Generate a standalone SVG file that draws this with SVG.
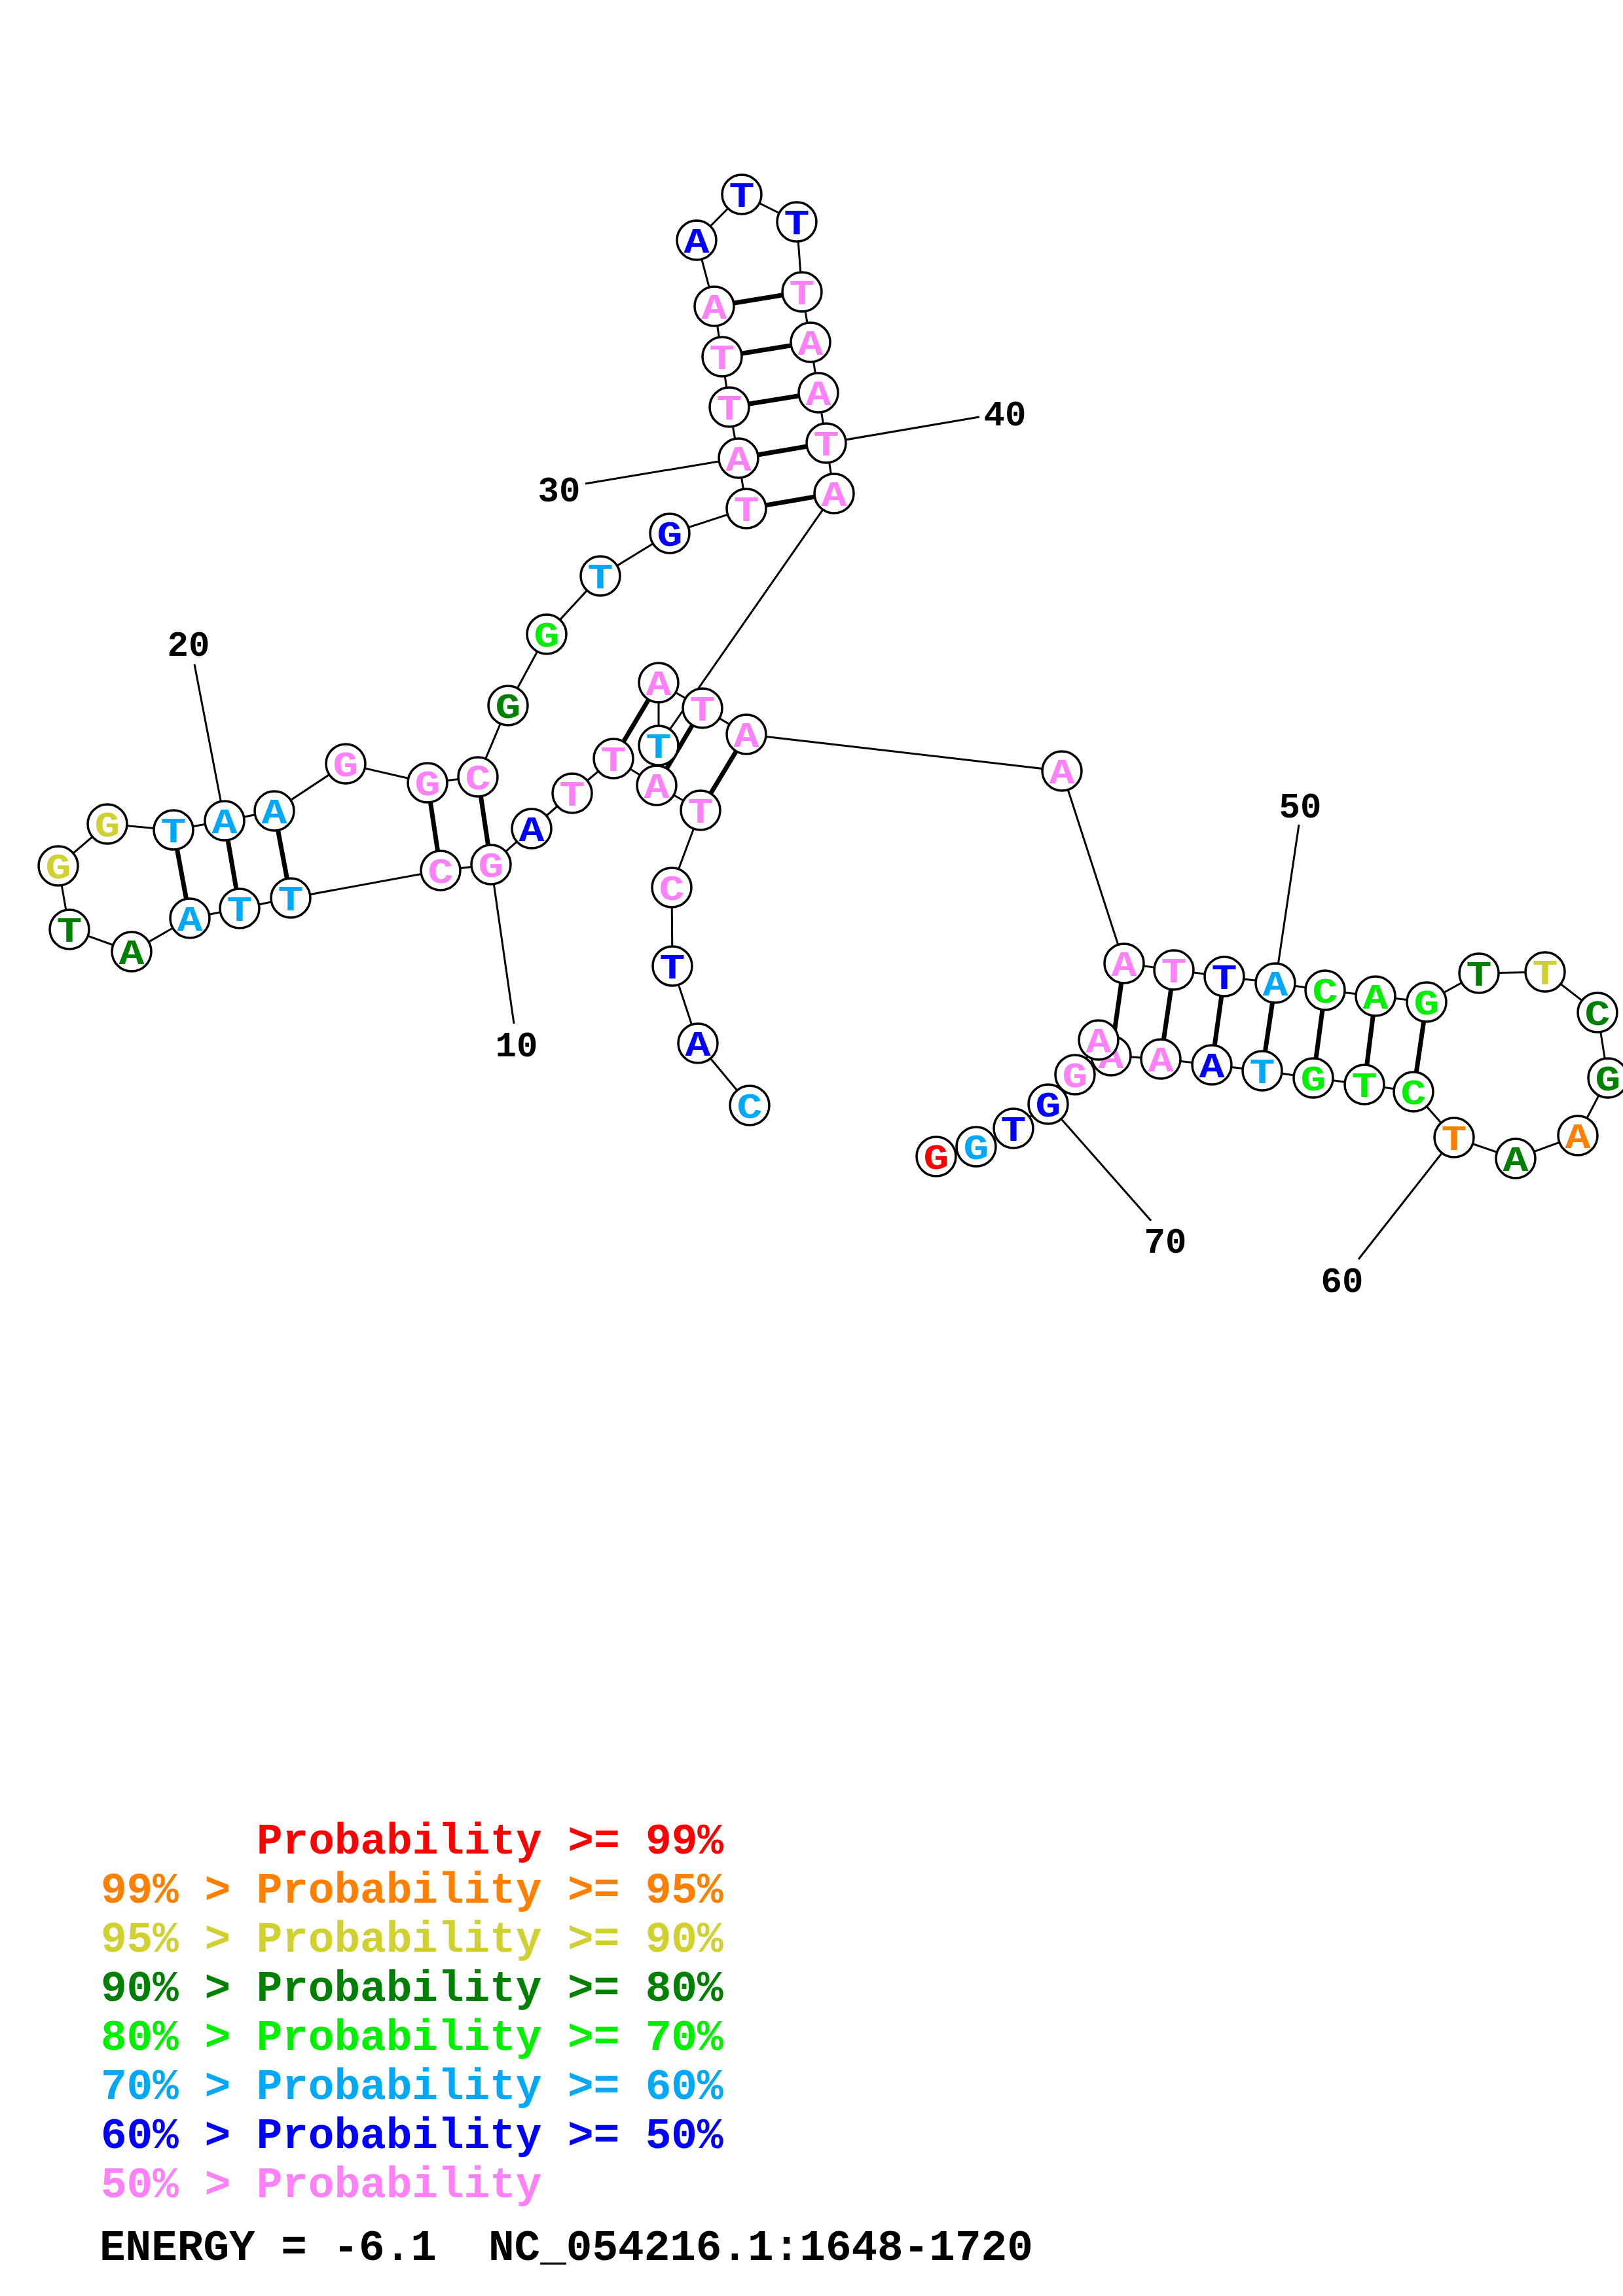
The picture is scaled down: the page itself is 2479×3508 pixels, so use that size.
<svg xmlns="http://www.w3.org/2000/svg" width="2479" height="3508" viewBox="0 0 2479 3508">
<style>
.bb{stroke:#000;stroke-width:3;fill:none}
.bp{stroke:#000;stroke-width:7;fill:none}
.lbl{stroke:#000;stroke-width:3;fill:none}
.nt circle{fill:#fff;stroke:#000;stroke-width:3.5}
.nt text{font-family:"Liberation Mono","DejaVu Sans Mono",monospace;font-weight:bold;font-size:54px;text-anchor:middle}
.num{font-family:"Liberation Mono","DejaVu Sans Mono",monospace;font-weight:bold;font-size:54px;text-anchor:middle;fill:#000}
.leg{font-family:"Liberation Mono","DejaVu Sans Mono",monospace;font-weight:bold;font-size:66px}
.r{fill:#FF0000}.o{fill:#FF8000}.y{fill:#D0D030}.dg{fill:#008000}.bg{fill:#00F000}.lb{fill:#00A8F8}.b{fill:#0000FF}.pk{fill:#FF80F8}
</style>
<rect width="2479" height="3508" fill="#fff"/>
<g id="connectors">
<polyline class="bb" points="1145,1689 1066,1594 1027,1476 1026,1356 1070,1238 1003,1200 937,1159 874,1212 812,1266 750,1321 673,1330 444,1372 366,1388 290,1403 201,1454 106,1420 89,1323 164,1259 265,1268 343,1254 419,1239 528,1167 653,1196 730,1187 776,1078 835,969 917,880 1023,815 1140,777 1128,700 1114,622 1103,545 1091,468 1064,367 1133,297 1217,339 1225,446 1238,523 1250,600 1262,677 1274,754 1006,1139 1006,1043 1073,1082 1140,1122 1622,1178 1717,1472 1793,1482 1870,1492 1948,1502 2024,1513 2101,1522 2179,1531 2259,1487 2360,1485 2440,1547 2456,1647 2410,1735 2315,1770 2221,1738 2159,1668 2084,1657 2006,1647 1928,1636 1851,1627 1773,1618 1697,1613 1678,1589 1642,1642 1601,1687 1548,1724 1491,1752 1430,1767"/>
<line class="bp" x1="1070" y1="1238" x2="1140" y2="1122"/>
<line class="bp" x1="1003" y1="1200" x2="1073" y2="1082"/>
<line class="bp" x1="937" y1="1159" x2="1006" y2="1043"/>
<line class="bp" x1="750" y1="1321" x2="730" y2="1187"/>
<line class="bp" x1="673" y1="1330" x2="653" y2="1196"/>
<line class="bp" x1="444" y1="1372" x2="419" y2="1239"/>
<line class="bp" x1="366" y1="1388" x2="343" y2="1254"/>
<line class="bp" x1="290" y1="1403" x2="265" y2="1268"/>
<line class="bp" x1="1140" y1="777" x2="1274" y2="754"/>
<line class="bp" x1="1128" y1="700" x2="1262" y2="677"/>
<line class="bp" x1="1114" y1="622" x2="1250" y2="600"/>
<line class="bp" x1="1103" y1="545" x2="1238" y2="523"/>
<line class="bp" x1="1091" y1="468" x2="1225" y2="446"/>
<line class="bp" x1="1717" y1="1472" x2="1697" y2="1613"/>
<line class="bp" x1="1793" y1="1482" x2="1773" y2="1618"/>
<line class="bp" x1="1870" y1="1492" x2="1851" y2="1627"/>
<line class="bp" x1="1948" y1="1502" x2="1928" y2="1636"/>
<line class="bp" x1="2024" y1="1513" x2="2006" y2="1647"/>
<line class="bp" x1="2101" y1="1522" x2="2084" y2="1657"/>
<line class="bp" x1="2179" y1="1531" x2="2159" y2="1668"/>
<line class="lbl" x1="750" y1="1321" x2="785" y2="1564"/>
<line class="lbl" x1="343" y1="1254" x2="297" y2="1015"/>
<line class="lbl" x1="1128" y1="700" x2="894" y2="739"/>
<line class="lbl" x1="1262" y1="677" x2="1496" y2="637"/>
<line class="lbl" x1="1948" y1="1502" x2="1984" y2="1260"/>
<line class="lbl" x1="2221" y1="1738" x2="2075" y2="1924"/>
<line class="lbl" x1="1601" y1="1687" x2="1758" y2="1865"/>
</g>
<g id="numbers">
<text class="num" x="789" y="1614">10</text>
<text class="num" x="288" y="1002">20</text>
<text class="num" x="854" y="766">30</text>
<text class="num" x="1535" y="650">40</text>
<text class="num" x="1986" y="1249">50</text>
<text class="num" x="2050" y="1974">60</text>
<text class="num" x="1780" y="1914">70</text>
</g>
<g id="nodes">
<g id="n1" class="nt" transform="translate(1145 1689)"><circle r="30"/><text class="lb" y="19" transform="scale(1.2 1)">C</text></g>
<g id="n2" class="nt" transform="translate(1066 1594)"><circle r="30"/><text class="b" y="19" transform="scale(1.2 1)">A</text></g>
<g id="n3" class="nt" transform="translate(1027 1476)"><circle r="30"/><text class="b" y="19" transform="scale(1.2 1)">T</text></g>
<g id="n4" class="nt" transform="translate(1026 1356)"><circle r="30"/><text class="pk" y="19" transform="scale(1.2 1)">C</text></g>
<g id="n5" class="nt" transform="translate(1070 1238)"><circle r="30"/><text class="pk" y="19" transform="scale(1.2 1)">T</text></g>
<g id="n6" class="nt" transform="translate(1003 1200)"><circle r="30"/><text class="pk" y="19" transform="scale(1.2 1)">A</text></g>
<g id="n7" class="nt" transform="translate(937 1159)"><circle r="30"/><text class="pk" y="19" transform="scale(1.2 1)">T</text></g>
<g id="n8" class="nt" transform="translate(874 1212)"><circle r="30"/><text class="pk" y="19" transform="scale(1.2 1)">T</text></g>
<g id="n9" class="nt" transform="translate(812 1266)"><circle r="30"/><text class="b" y="19" transform="scale(1.2 1)">A</text></g>
<g id="n10" class="nt" transform="translate(750 1321)"><circle r="30"/><text class="pk" y="19" transform="scale(1.2 1)">G</text></g>
<g id="n11" class="nt" transform="translate(673 1330)"><circle r="30"/><text class="pk" y="19" transform="scale(1.2 1)">C</text></g>
<g id="n12" class="nt" transform="translate(444 1372)"><circle r="30"/><text class="lb" y="19" transform="scale(1.2 1)">T</text></g>
<g id="n13" class="nt" transform="translate(366 1388)"><circle r="30"/><text class="lb" y="19" transform="scale(1.2 1)">T</text></g>
<g id="n14" class="nt" transform="translate(290 1403)"><circle r="30"/><text class="lb" y="19" transform="scale(1.2 1)">A</text></g>
<g id="n15" class="nt" transform="translate(201 1454)"><circle r="30"/><text class="dg" y="19" transform="scale(1.2 1)">A</text></g>
<g id="n16" class="nt" transform="translate(106 1420)"><circle r="30"/><text class="dg" y="19" transform="scale(1.2 1)">T</text></g>
<g id="n17" class="nt" transform="translate(89 1323)"><circle r="30"/><text class="y" y="19" transform="scale(1.2 1)">G</text></g>
<g id="n18" class="nt" transform="translate(164 1259)"><circle r="30"/><text class="y" y="19" transform="scale(1.2 1)">G</text></g>
<g id="n19" class="nt" transform="translate(265 1268)"><circle r="30"/><text class="lb" y="19" transform="scale(1.2 1)">T</text></g>
<g id="n20" class="nt" transform="translate(343 1254)"><circle r="30"/><text class="lb" y="19" transform="scale(1.2 1)">A</text></g>
<g id="n21" class="nt" transform="translate(419 1239)"><circle r="30"/><text class="lb" y="19" transform="scale(1.2 1)">A</text></g>
<g id="n22" class="nt" transform="translate(528 1167)"><circle r="30"/><text class="pk" y="19" transform="scale(1.2 1)">G</text></g>
<g id="n23" class="nt" transform="translate(653 1196)"><circle r="30"/><text class="pk" y="19" transform="scale(1.2 1)">G</text></g>
<g id="n24" class="nt" transform="translate(730 1187)"><circle r="30"/><text class="pk" y="19" transform="scale(1.2 1)">C</text></g>
<g id="n25" class="nt" transform="translate(776 1078)"><circle r="30"/><text class="dg" y="19" transform="scale(1.2 1)">G</text></g>
<g id="n26" class="nt" transform="translate(835 969)"><circle r="30"/><text class="bg" y="19" transform="scale(1.2 1)">G</text></g>
<g id="n27" class="nt" transform="translate(917 880)"><circle r="30"/><text class="lb" y="19" transform="scale(1.2 1)">T</text></g>
<g id="n28" class="nt" transform="translate(1023 815)"><circle r="30"/><text class="b" y="19" transform="scale(1.2 1)">G</text></g>
<g id="n29" class="nt" transform="translate(1140 777)"><circle r="30"/><text class="pk" y="19" transform="scale(1.2 1)">T</text></g>
<g id="n30" class="nt" transform="translate(1128 700)"><circle r="30"/><text class="pk" y="19" transform="scale(1.2 1)">A</text></g>
<g id="n31" class="nt" transform="translate(1114 622)"><circle r="30"/><text class="pk" y="19" transform="scale(1.2 1)">T</text></g>
<g id="n32" class="nt" transform="translate(1103 545)"><circle r="30"/><text class="pk" y="19" transform="scale(1.2 1)">T</text></g>
<g id="n33" class="nt" transform="translate(1091 468)"><circle r="30"/><text class="pk" y="19" transform="scale(1.2 1)">A</text></g>
<g id="n34" class="nt" transform="translate(1064 367)"><circle r="30"/><text class="b" y="19" transform="scale(1.2 1)">A</text></g>
<g id="n35" class="nt" transform="translate(1133 297)"><circle r="30"/><text class="b" y="19" transform="scale(1.2 1)">T</text></g>
<g id="n36" class="nt" transform="translate(1217 339)"><circle r="30"/><text class="b" y="19" transform="scale(1.2 1)">T</text></g>
<g id="n37" class="nt" transform="translate(1225 446)"><circle r="30"/><text class="pk" y="19" transform="scale(1.2 1)">T</text></g>
<g id="n38" class="nt" transform="translate(1238 523)"><circle r="30"/><text class="pk" y="19" transform="scale(1.2 1)">A</text></g>
<g id="n39" class="nt" transform="translate(1250 600)"><circle r="30"/><text class="pk" y="19" transform="scale(1.2 1)">A</text></g>
<g id="n40" class="nt" transform="translate(1262 677)"><circle r="30"/><text class="pk" y="19" transform="scale(1.2 1)">T</text></g>
<g id="n41" class="nt" transform="translate(1274 754)"><circle r="30"/><text class="pk" y="19" transform="scale(1.2 1)">A</text></g>
<g id="n42" class="nt" transform="translate(1006 1139)"><circle r="30"/><text class="lb" y="19" transform="scale(1.2 1)">T</text></g>
<g id="n43" class="nt" transform="translate(1006 1043)"><circle r="30"/><text class="pk" y="19" transform="scale(1.2 1)">A</text></g>
<g id="n44" class="nt" transform="translate(1073 1082)"><circle r="30"/><text class="pk" y="19" transform="scale(1.2 1)">T</text></g>
<g id="n45" class="nt" transform="translate(1140 1122)"><circle r="30"/><text class="pk" y="19" transform="scale(1.2 1)">A</text></g>
<g id="n46" class="nt" transform="translate(1622 1178)"><circle r="30"/><text class="pk" y="19" transform="scale(1.2 1)">A</text></g>
<g id="n47" class="nt" transform="translate(1717 1472)"><circle r="30"/><text class="pk" y="19" transform="scale(1.2 1)">A</text></g>
<g id="n48" class="nt" transform="translate(1793 1482)"><circle r="30"/><text class="pk" y="19" transform="scale(1.2 1)">T</text></g>
<g id="n49" class="nt" transform="translate(1870 1492)"><circle r="30"/><text class="b" y="19" transform="scale(1.2 1)">T</text></g>
<g id="n50" class="nt" transform="translate(1948 1502)"><circle r="30"/><text class="lb" y="19" transform="scale(1.2 1)">A</text></g>
<g id="n51" class="nt" transform="translate(2024 1513)"><circle r="30"/><text class="bg" y="19" transform="scale(1.2 1)">C</text></g>
<g id="n52" class="nt" transform="translate(2101 1522)"><circle r="30"/><text class="bg" y="19" transform="scale(1.2 1)">A</text></g>
<g id="n53" class="nt" transform="translate(2179 1531)"><circle r="30"/><text class="bg" y="19" transform="scale(1.2 1)">G</text></g>
<g id="n54" class="nt" transform="translate(2259 1487)"><circle r="30"/><text class="dg" y="19" transform="scale(1.2 1)">T</text></g>
<g id="n55" class="nt" transform="translate(2360 1485)"><circle r="30"/><text class="y" y="19" transform="scale(1.2 1)">T</text></g>
<g id="n56" class="nt" transform="translate(2440 1547)"><circle r="30"/><text class="dg" y="19" transform="scale(1.2 1)">C</text></g>
<g id="n57" class="nt" transform="translate(2456 1647)"><circle r="30"/><text class="dg" y="19" transform="scale(1.2 1)">G</text></g>
<g id="n58" class="nt" transform="translate(2410 1735)"><circle r="30"/><text class="o" y="19" transform="scale(1.2 1)">A</text></g>
<g id="n59" class="nt" transform="translate(2315 1770)"><circle r="30"/><text class="dg" y="19" transform="scale(1.2 1)">A</text></g>
<g id="n60" class="nt" transform="translate(2221 1738)"><circle r="30"/><text class="o" y="19" transform="scale(1.2 1)">T</text></g>
<g id="n61" class="nt" transform="translate(2159 1668)"><circle r="30"/><text class="bg" y="19" transform="scale(1.2 1)">C</text></g>
<g id="n62" class="nt" transform="translate(2084 1657)"><circle r="30"/><text class="bg" y="19" transform="scale(1.2 1)">T</text></g>
<g id="n63" class="nt" transform="translate(2006 1647)"><circle r="30"/><text class="bg" y="19" transform="scale(1.2 1)">G</text></g>
<g id="n64" class="nt" transform="translate(1928 1636)"><circle r="30"/><text class="lb" y="19" transform="scale(1.2 1)">T</text></g>
<g id="n65" class="nt" transform="translate(1851 1627)"><circle r="30"/><text class="b" y="19" transform="scale(1.2 1)">A</text></g>
<g id="n66" class="nt" transform="translate(1773 1618)"><circle r="30"/><text class="pk" y="19" transform="scale(1.2 1)">A</text></g>
<g id="n67" class="nt" transform="translate(1697 1613)"><circle r="30"/><text class="pk" y="19" transform="scale(1.2 1)">A</text></g>
<g id="n68" class="nt" transform="translate(1678 1589)"><circle r="30"/><text class="pk" y="19" transform="scale(1.2 1)">A</text></g>
<g id="n69" class="nt" transform="translate(1642 1642)"><circle r="30"/><text class="pk" y="19" transform="scale(1.2 1)">G</text></g>
<g id="n70" class="nt" transform="translate(1601 1687)"><circle r="30"/><text class="b" y="19" transform="scale(1.2 1)">G</text></g>
<g id="n71" class="nt" transform="translate(1548 1724)"><circle r="30"/><text class="b" y="19" transform="scale(1.2 1)">T</text></g>
<g id="n72" class="nt" transform="translate(1491 1752)"><circle r="30"/><text class="lb" y="19" transform="scale(1.2 1)">G</text></g>
<g id="n73" class="nt" transform="translate(1430 1767)"><circle r="30"/><text class="r" y="19" transform="scale(1.2 1)">G</text></g>
</g>
<g id="legend" class="leg">
<text class="r" x="392" y="2832">Probability &gt;= 99%</text>
<text class="o" x="154" y="2907">99% &gt; Probability &gt;= 95%</text>
<text class="y" x="154" y="2982">95% &gt; Probability &gt;= 90%</text>
<text class="dg" x="154" y="3057">90% &gt; Probability &gt;= 80%</text>
<text class="bg" x="154" y="3132">80% &gt; Probability &gt;= 70%</text>
<text class="lb" x="154" y="3207">70% &gt; Probability &gt;= 60%</text>
<text class="b" x="154" y="3282">60% &gt; Probability &gt;= 50%</text>
<text class="pk" x="154" y="3357">50% &gt; Probability</text>
<text x="152" y="3453" fill="#000"><tspan x="152">ENERGY = -6.1</tspan><tspan x="746">NC_054216.1:1648-1720</tspan></text>
</g>
</svg>
